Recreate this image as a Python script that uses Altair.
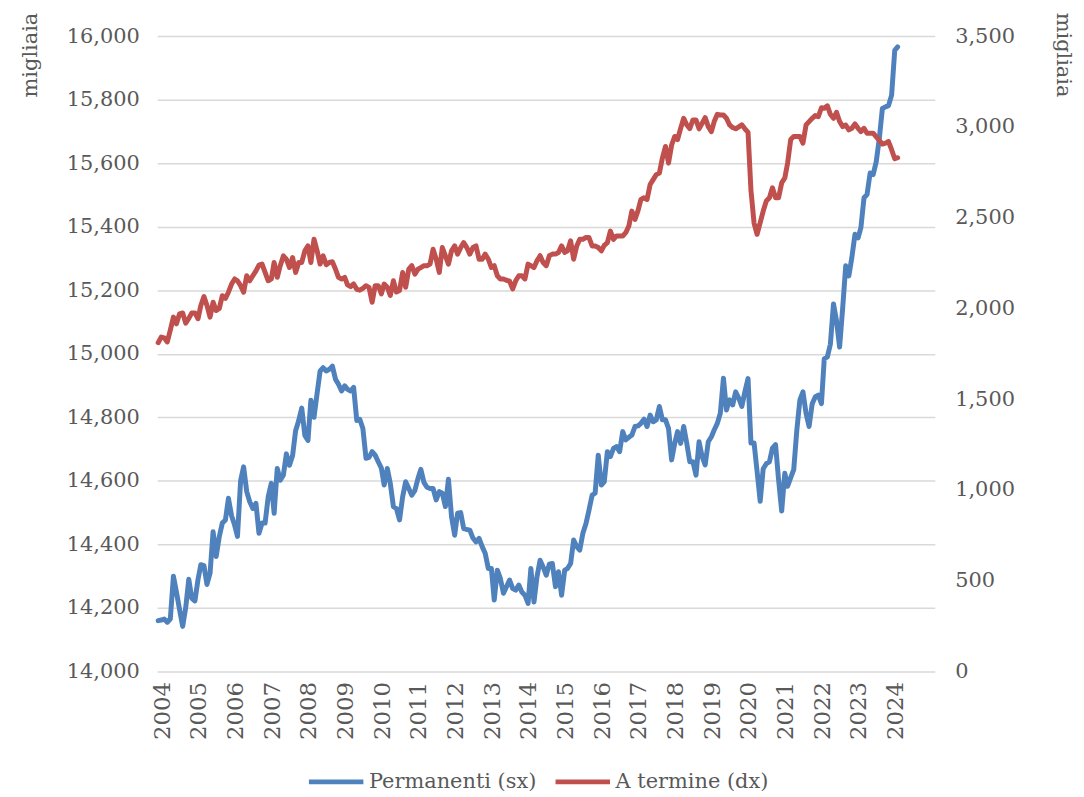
import altair as alt
import pandas as pd

# Monthly series, Jan 2004 - Mar 2024 (thousands)
permanenti = [
    14160, 14162, 14165, 14155, 14165, 14300, 14250, 14195, 14142, 14200, 14290, 14230,
    14222, 14290, 14336, 14333, 14274, 14310, 14440, 14362, 14425, 14467, 14477, 14545,
    14490, 14460, 14425, 14600, 14644, 14566, 14534, 14513, 14529, 14435, 14467, 14467,
    14550, 14592, 14498, 14639, 14602, 14618, 14685, 14649, 14680, 14758, 14790, 14829,
    14743, 14727, 14854, 14800, 14873, 14946, 14956, 14946, 14951, 14961, 14920, 14904,
    14883, 14899, 14888, 14883, 14894, 14790, 14794, 14765, 14671, 14674, 14692, 14681,
    14660, 14640, 14587, 14639, 14592, 14519, 14513, 14477, 14550, 14597, 14576, 14555,
    14570, 14608, 14636, 14595, 14580, 14576, 14576, 14540, 14566, 14561, 14519, 14605,
    14487, 14429, 14498, 14500, 14450, 14447, 14445, 14420, 14408, 14419, 14393, 14372,
    14324, 14324, 14225, 14319, 14293, 14246, 14267, 14288, 14261, 14256, 14272, 14250,
    14240, 14214, 14324, 14219, 14298, 14350, 14329, 14303, 14338, 14340, 14267, 14314,
    14240, 14319, 14324, 14340, 14414, 14393, 14382, 14435, 14466, 14508, 14555, 14561,
    14681, 14587, 14597, 14692, 14676, 14702, 14708, 14692, 14755, 14729, 14737, 14744,
    14771, 14773, 14781, 14794, 14771, 14807, 14786, 14792, 14834, 14792, 14792, 14765,
    14666, 14718, 14755, 14718, 14771, 14718, 14660, 14660, 14618, 14723, 14676, 14650,
    14723, 14739, 14760, 14781, 14813, 14923, 14823, 14855, 14839, 14880, 14860, 14834,
    14881, 14922, 14719, 14719, 14630, 14536, 14638, 14654, 14660, 14703, 14714, 14604,
    14505, 14624, 14583, 14610, 14635, 14760, 14854, 14880, 14812, 14771, 14843, 14864,
    14870, 14843, 14984, 14990, 15030, 15157, 15104, 15021, 15146, 15277, 15245, 15303,
    15376, 15365, 15397, 15491, 15501, 15569, 15564, 15605, 15679, 15772, 15777, 15781,
    15814, 15955, 15966,
]

a_termine = [
    1811, 1842, 1838, 1815, 1880, 1952, 1915, 1970, 1975, 1919, 1945, 1975,
    1975, 1943, 2016, 2065, 2016, 1952, 2034, 1988, 2000, 2070, 2055, 2089,
    2134, 2162, 2152, 2125, 2089, 2180, 2152, 2180, 2207, 2238, 2244, 2198,
    2152, 2162, 2253, 2171, 2235, 2289, 2271, 2225, 2280, 2198, 2253, 2253,
    2317, 2344, 2253, 2381, 2320, 2244, 2290, 2240, 2253, 2257, 2216, 2171,
    2162, 2171, 2130, 2120, 2135, 2105, 2100, 2110, 2125, 2116, 2034, 2125,
    2125, 2080, 2134, 2116, 2071, 2152, 2090, 2098, 2198, 2116, 2216, 2235,
    2189, 2216, 2225, 2235, 2235, 2244, 2326, 2271, 2198, 2335, 2289, 2244,
    2317, 2344, 2299, 2335, 2362, 2335, 2299, 2335, 2344, 2271, 2271, 2299,
    2271, 2225, 2235, 2180, 2162, 2162, 2155, 2150, 2107, 2152, 2180, 2180,
    2162, 2244, 2235, 2225, 2262, 2290, 2253, 2235, 2290, 2299, 2299, 2308,
    2344, 2308, 2317, 2372, 2271, 2344, 2381, 2381, 2390, 2390, 2344, 2344,
    2335, 2317, 2347, 2362, 2426, 2380, 2399, 2399, 2399, 2417, 2454, 2536,
    2490, 2540, 2600, 2609, 2600, 2682, 2709, 2737, 2746, 2828, 2892, 2800,
    2900, 2947, 2930, 2992, 3047, 3010, 2990, 3038, 3038, 2989, 3020, 3051,
    3001, 2974, 3029, 3069, 3065, 3065, 3047, 3011, 2996, 2989, 3000, 3011,
    2989, 2969, 2650, 2470, 2408, 2472, 2536, 2591, 2609, 2664, 2609, 2609,
    2691, 2718, 2800, 2930, 2947, 2947, 2947, 2910, 3011, 3029, 3047, 3062,
    3056, 3105, 3102, 3116, 3069, 3047, 3080, 3029, 3001, 3010, 2983, 2992,
    3016, 2992, 2974, 2992, 2965, 2965, 2965, 2945, 2925, 2905, 2910, 2919,
    2874, 2824, 2830,
]

series_names = ["Permanenti (sx)", "A termine (dx)"]
series_colors = ["#4F81BD", "#C0504D"]
left_ticks = list(range(14000, 16001, 200))
right_ticks = list(range(0, 3501, 500))
years = list(range(2004, 2025))

dates = pd.date_range("2004-01-01", periods=len(permanenti), freq="MS")
df = pd.concat([
    pd.DataFrame({"data": dates, "valore": permanenti, "serie": series_names[0]}),
    pd.DataFrame({"data": dates, "valore": a_termine, "serie": series_names[1]}),
])

FONT = "DejaVu Serif"
GRAY = "#595959"

x = alt.X(
    "data:T",
    scale=alt.Scale(domain=[alt.DateTime(year=2003, month=12, date=22),
                            alt.DateTime(year=2025, month=3, date=6)]),
    axis=alt.Axis(
        values=[alt.DateTime(year=y, month=1, date=1) for y in years],
        format="%Y", labelAngle=270, labelPadding=10, labelOffset=4,
        grid=False, domain=False, ticks=False, title=None, labelFont=FONT,
        labelFontSize=23, labelColor=GRAY,
    ),
)

color = alt.Color(
    "serie:N",
    scale=alt.Scale(domain=series_names, range=series_colors),
    legend=alt.Legend(
        title=None, orient="none", legendX=150, legendY=720,
        direction="horizontal", symbolType="stroke", symbolSize=3000,
        symbolStrokeWidth=5, labelFont=FONT, labelFontSize=21,
        labelColor=GRAY, columnPadding=8, labelOffset=3, labelLimit=400,
    ),
)

left = alt.Chart(df).transform_filter(
    alt.datum.serie == series_names[0]
).mark_line(strokeWidth=5, strokeJoin="round", strokeCap="round").encode(
    x=x,
    y=alt.Y(
        "valore:Q",
        scale=alt.Scale(domain=[14000, 16000], nice=False, zero=False),
        axis=alt.Axis(
            values=left_ticks, format=",.0f", grid=True, gridColor="#D9D9D9",
            gridWidth=1.5, domain=False, ticks=False, labelPadding=18,
            labelFont=FONT, labelFontSize=21, labelColor=GRAY,
            title="migliaia", titleX=-127, titleY=-24, titleAngle=270,
            titleAlign="right", titleBaseline="middle", titleFont=FONT,
            titleFontSize=21, titleFontWeight="normal", titleColor=GRAY,
        ),
    ),
    color=color,
)

right = alt.Chart(df).transform_filter(
    alt.datum.serie == series_names[1]
).mark_line(strokeWidth=5, strokeJoin="round", strokeCap="round").encode(
    x=x,
    y=alt.Y(
        "valore:Q",
        scale=alt.Scale(domain=[0, 3500], nice=False),
        axis=alt.Axis(
            orient="right", values=right_ticks, format=",.0f", grid=False,
            domain=False, ticks=False, labelPadding=20,
            labelFont=FONT, labelFontSize=21, labelColor=GRAY,
            title="migliaia", titleX=128, titleY=-24, titleAngle=90,
            titleAlign="left", titleBaseline="middle", titleFont=FONT,
            titleFontSize=21, titleFontWeight="normal", titleColor=GRAY,
        ),
    ),
    color=color,
)

chart = alt.layer(left, right).resolve_scale(y="independent").properties(
    width=782, height=639,
    autosize=alt.AutoSizeParams(type="none"),
    padding={"left": 150, "top": 26, "right": 142, "bottom": 122},
    background="white",
).configure_view(stroke=None)

chart.save("out.html", embed_options={"renderer": "svg", "actions": False})
